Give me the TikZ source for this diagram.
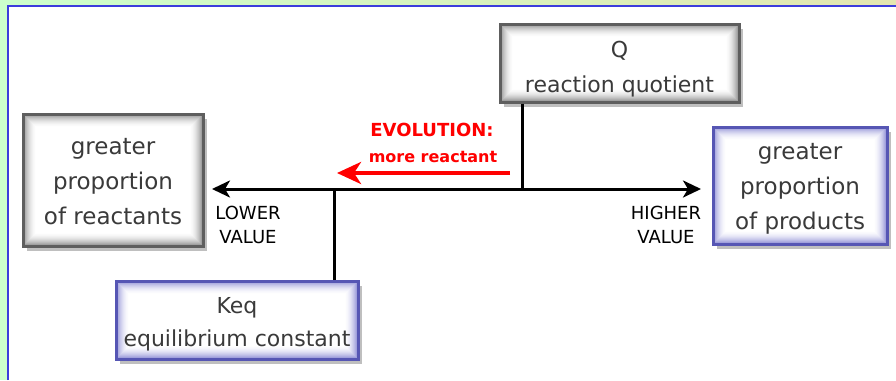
\documentclass[tikz,border=0pt]{standalone}
\usepackage{fontspec}
\setmainfont{DejaVu Sans}
\usetikzlibrary{arrows.meta,shadows}
\definecolor{bggreen}{HTML}{CCFFCC}
\definecolor{bgyellow}{HTML}{E4E6B0}
\definecolor{frameblue}{HTML}{3C3CDC}
\definecolor{grayborder}{HTML}{5E5E5E}
\definecolor{grayglow}{HTML}{8A8A8A}
\definecolor{blueborder}{HTML}{5656B4}
\definecolor{blueglow}{HTML}{8A8AD4}
\definecolor{boxtext}{HTML}{3A3A3A}
\tikzset{
  glowgray/.style={
    path picture={
      \foreach \i in {0,...,14}{
        \pgfmathtruncatemacro\p{95*(1-\i/14)*(1-\i/14)}
        \fill[grayglow!\p!white] ([shift={(\i pt,-\i pt)}]path picture bounding box.north west)
          rectangle ([shift={(-\i pt,\i pt)}]path picture bounding box.south east);
      }
    }},
  glowblue/.style={
    path picture={
      \foreach \i in {0,...,14}{
        \pgfmathtruncatemacro\p{95*(1-\i/14)*(1-\i/14)}
        \fill[blueglow!\p!white] ([shift={(\i pt,-\i pt)}]path picture bounding box.north west)
          rectangle ([shift={(-\i pt,\i pt)}]path picture bounding box.south east);
      }
    }},
  basebox/.style={rectangle, fill=white, line width=3pt, inner sep=0pt,
    drop shadow={shadow xshift=4pt, shadow yshift=-5pt, fill=black, opacity=0.25}},
  graybox/.style={basebox, draw=grayborder, glowgray},
  bluebox/.style={basebox, draw=blueborder, glowblue},
  boxtextstyle/.style={align=center, text=boxtext, inner sep=0pt},
  axisline/.style={line width=3pt, line cap=butt},
  axtip/.style={-{Stealth[length=18pt,width=17pt,inset=5pt]}},
  redarrow/.style={draw=red, line width=4pt, -{Stealth[length=24pt,width=22pt,inset=7pt]}},
  vallabel/.style={align=center, font=\fontsize{18}{24}\selectfont, text=black},
}
\begin{document}
\begin{tikzpicture}[x=1pt,y=-1pt]
\useasboundingbox (0,0) rectangle (896,380);
% background frame
\fill[bggreen] (0,0) rectangle (896,380);
\shade[left color=bggreen, right color=bgyellow] (0,0) rectangle (896,6);
\fill[white] (8,6) rectangle (896,380);
\draw[frameblue, line width=2.5pt] (8,380) -- (8,6) -- (896,6);

% boxes
\node[graybox, minimum width=239pt, minimum height=78pt] (q) at (619.5,63) {};
\node[graybox, minimum width=180pt, minimum height=132pt] (react) at (113,180) {};
\node[bluebox, minimum width=174pt, minimum height=117pt] (prod) at (800,185.5) {};
\node[bluebox, minimum width=242pt, minimum height=78pt] (keq) at (237,320) {};

% box texts
\node[boxtextstyle, font=\fontsize{22}{35}\selectfont] (qt) at ([yshift=-6pt]q.center) {Q\\reaction quotient};
\node[boxtextstyle, font=\fontsize{23}{35}\selectfont] (reactt) at ([yshift=-2pt]react.center) {greater\\proportion\\of reactants};
\node[boxtextstyle, font=\fontsize{23}{35}\selectfont] (prodt) at ([yshift=-3pt]prod.center) {greater\\proportion\\of products};
\node[boxtextstyle, font=\fontsize{22}{33}\selectfont] (keqt) at ([yshift=-4pt]keq.center) {Keq\\equilibrium constant};

% axis coordinates
\coordinate (axl) at (212,189);
\coordinate (axr) at (701,189);
\coordinate (qfoot) at (522,189);
\coordinate (kfoot) at (334,189);
\coordinate (ra1) at (510,173);
\coordinate (ra2) at (337,173);

% connectors
\draw[axisline] (q.south -| qfoot) -- (qfoot);
\draw[axisline] (kfoot) -- (kfoot |- keq.north);
\draw[axisline, axtip] (qfoot) -- (axl);
\draw[axisline, axtip] (kfoot) -- (axr);
\draw[redarrow] (ra1) -- (ra2);

% labels
\node[text=red, font=\fontsize{18}{20}\selectfont\bfseries] (evo1) at (432,130) {EVOLUTION:};
\node[text=red, font=\fontsize{16}{20}\selectfont\bfseries] (evo2) at (433,157) {more reactant};
\node[vallabel] (lowv) at (248,225) {LOWER\\VALUE};
\node[vallabel] (highv) at (666,225) {HIGHER\\VALUE};
\end{tikzpicture}
\end{document}
